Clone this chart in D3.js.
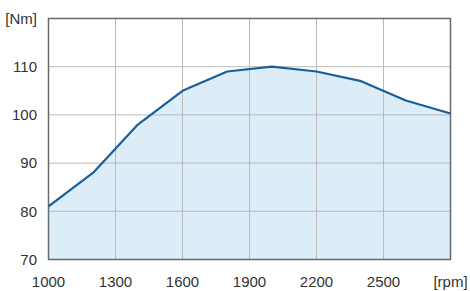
<!DOCTYPE html>
<html>
<head>
<meta charset="utf-8">
<script src="https://cdn.jsdelivr.net/npm/d3@7"></script>
<style>
  body { margin: 0; background: #fff; }
  text { font-family: "Liberation Sans", Arial, sans-serif; font-size: 15px; fill: #333; }
</style>
</head>
<body>
<script>
var width = 470;
var height = 291;

var rpm = [1000, 1200, 1400, 1600, 1800, 2000, 2200, 2400, 2600, 2800];
var torque = [81, 88, 98, 105, 109, 110, 109, 107, 103, 100.3];
var xTicks = [1000, 1300, 1600, 1900, 2200, 2500, 2800];
var xTickLabels = ["1000", "1300", "1600", "1900", "2200", "2500", "[rpm]"];
var yTicks = [70, 80, 90, 100, 110, 120];
var yTickLabels = ["70", "80", "90", "100", "110", "[Nm]"];

var plotLeft = 48.5, plotRight = 450.5, plotTop = 18.5, plotBottom = 259.5;

var x = d3.scaleLinear().domain([1000, 2800]).range([plotLeft, plotRight]);
var y = d3.scaleLinear().domain([70, 120]).range([plotBottom, plotTop]);

var svg = d3.select("body").append("svg")
  .attr("width", width)
  .attr("height", height);

var pts = rpm.map(function(d, i) { return [d, torque[i]]; });

// fill under the curve
svg.append("path")
  .datum(pts)
  .attr("fill", "#dcedf8")
  .attr("d", d3.area()
    .x(function(d) { return x(d[0]); })
    .y0(y(70))
    .y1(function(d) { return y(d[1]); }));

// grid
svg.append("g").selectAll("line")
  .data(xTicks.slice(1, -1))
  .enter().append("line")
  .attr("x1", function(d) { return x(d); })
  .attr("x2", function(d) { return x(d); })
  .attr("y1", plotTop).attr("y2", plotBottom)
  .attr("stroke", "#bbbbbb").attr("stroke-width", 1);

svg.append("g").selectAll("line")
  .data(yTicks.slice(1, -1))
  .enter().append("line")
  .attr("y1", function(d) { return y(d); })
  .attr("y2", function(d) { return y(d); })
  .attr("x1", plotLeft).attr("x2", plotRight)
  .attr("stroke", "#bbbbbb").attr("stroke-width", 1);

// frame
svg.append("rect")
  .attr("x", plotLeft).attr("y", plotTop)
  .attr("width", plotRight - plotLeft).attr("height", plotBottom - plotTop)
  .attr("fill", "none")
  .attr("stroke", "#666a70").attr("stroke-width", 1.5);

// line
svg.append("path")
  .datum(pts)
  .attr("fill", "none")
  .attr("stroke", "#1a5e98")
  .attr("stroke-width", 2.2)
  .attr("stroke-linejoin", "round")
  .attr("d", d3.line()
    .x(function(d) { return x(d[0]); })
    .y(function(d) { return y(d[1]); }));

// labels
svg.append("g").selectAll("text")
  .data(yTicks)
  .enter().append("text")
  .attr("x", 37)
  .attr("y", function(d) { return y(d); })
  .attr("dy", "0.35em")
  .attr("text-anchor", "end")
  .text(function(d, i) { return yTickLabels[i]; });

svg.append("g").selectAll("text")
  .data(xTicks)
  .enter().append("text")
  .attr("x", function(d) { return x(d); })
  .attr("y", 282)
  .attr("dy", "0.35em")
  .attr("text-anchor", "middle")
  .text(function(d, i) { return xTickLabels[i]; });
</script>
</body>
</html>
